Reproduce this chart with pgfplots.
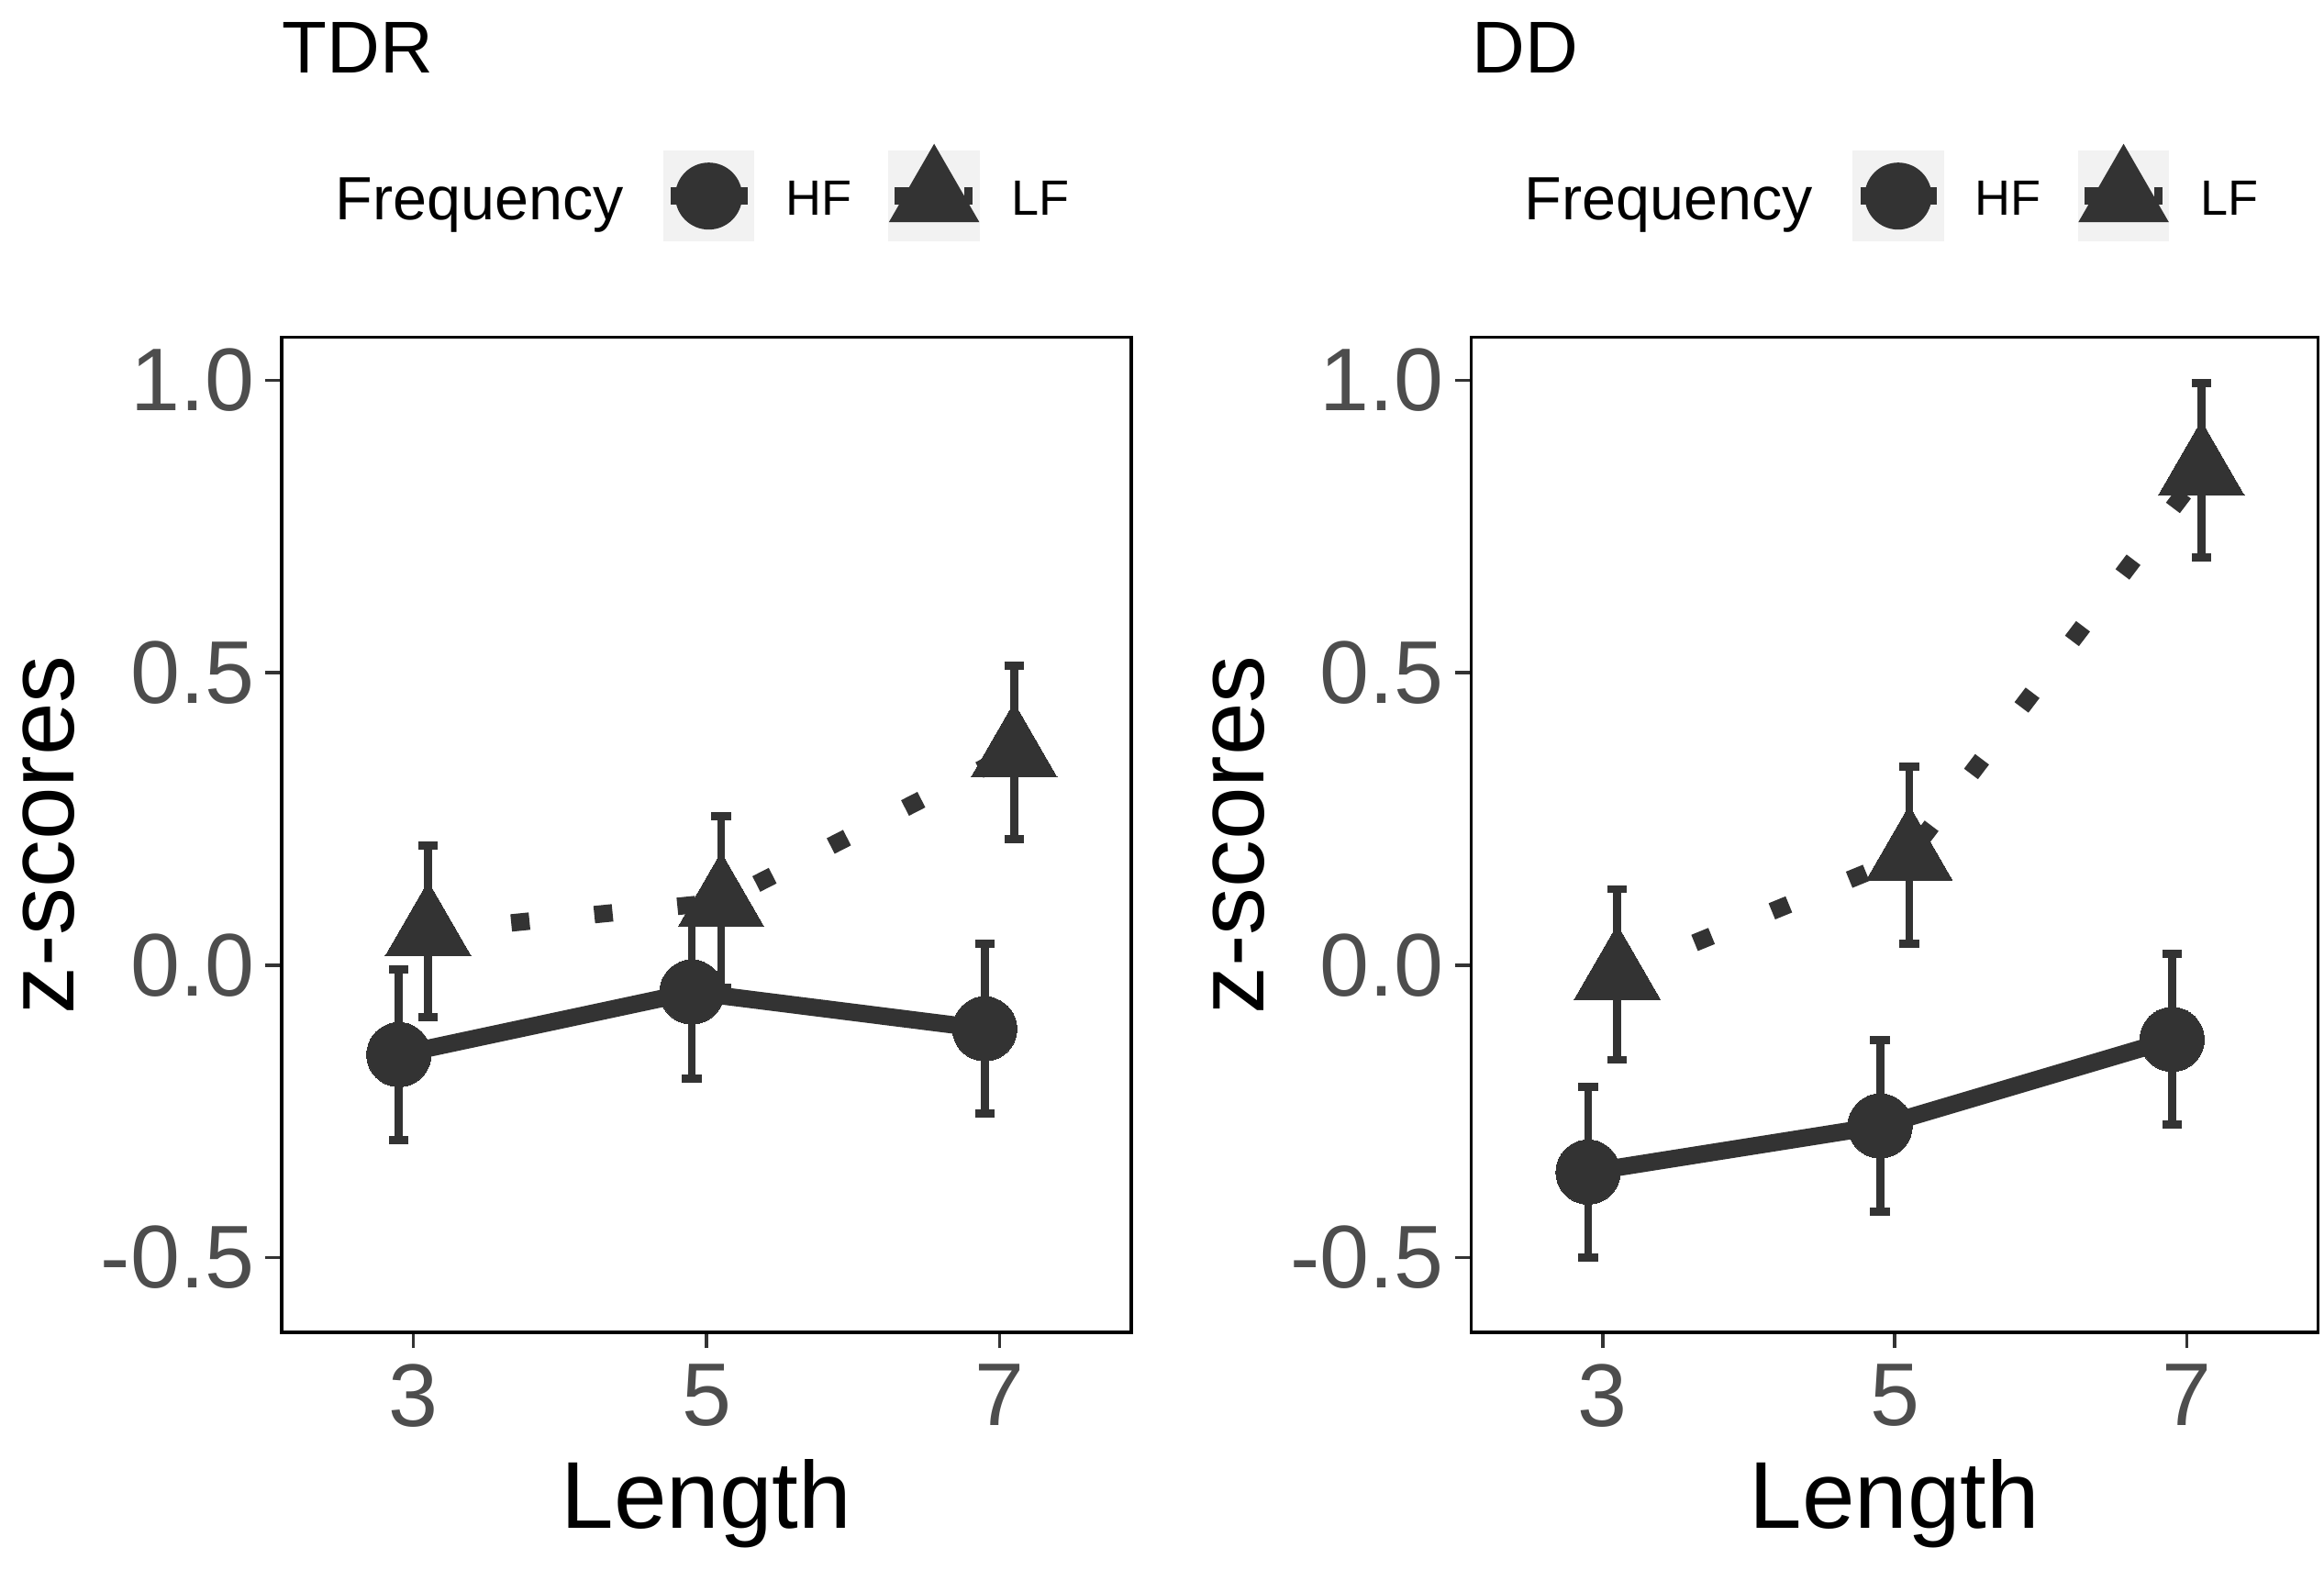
\documentclass[border=0pt]{standalone}
\usepackage{fontspec}
\setmainfont{Liberation Sans}
\usepackage{pgfplots}
\usepackage{pgfplotstable}
\pgfplotsset{compat=1.18}
\definecolor{g20}{HTML}{333333}
\definecolor{g30}{HTML}{4D4D4D}
\definecolor{g95}{HTML}{F2F2F2}

\pgfplotstableread{
x y e
2.9 -0.153 0.146
4.9 -0.046 0.148
6.9 -0.109 0.145
}\tdrHF
\pgfplotstableread{
x y e
3.1 0.058 0.147
5.1 0.108 0.147
7.1 0.364 0.148
}\tdrLF
\pgfplotstableread{
x y e
2.9 -0.354 0.146
4.9 -0.275 0.147
6.9 -0.127 0.146
}\ddHF
\pgfplotstableread{
x y e
3.1 -0.016 0.146
5.1 0.188 0.151
7.1 0.846 0.149
}\ddLF

\pgfplotsset{
  zpanel/.style={
    scale only axis, height=216.88pt,
    xmin=2.1, xmax=7.9, ymin=-0.628, ymax=1.0738,
    xtick={3,5,7}, xticklabels={3,5,7},
    ytick={-0.5,0,0.5,1}, yticklabels={-0.5,0.0,0.5,1.0},
    minor tick num=0,
    xtick pos=left, ytick pos=left,
    tick align=outside, major tick length=3.5pt,
    tick style={g20, line width=0.7pt},
    axis line style={black, line width=0.7pt},
    ticklabel style={font=\fontsize{19.4}{20}\selectfont, text=g30, inner sep=0pt},
    yticklabel style={xshift=-2.3pt},
    xticklabel style={yshift=-3.2pt},
    xlabel={Length}, ylabel={z-scores},
    label style={font=\fontsize{20.7}{22}\selectfont, inner sep=0pt, text=black},
    xlabel style={at={(axis description cs:0.5,-0.1973)}, anchor=base},
    ylabel style={at={(axis description cs:-0.2451,0.5)}, anchor=base},
    title style={at={(axis description cs:0,1.2652)}, anchor=base west, yshift=-6pt, inner sep=0pt, font=\fontsize{16}{18}\selectfont},
    legend columns=3,
    legend cell align=left,
    legend style={at={(axis description cs:0.0631,1.1419)}, anchor=west,
      draw=none, fill=none, inner sep=0pt, outer sep=0pt,
      column sep=0pt, row sep=0pt,
      nodes={inner sep=0pt, anchor=base west, font=\fontsize{10.8}{12}\selectfont, text=black}},
  },
  hfstyle/.style={
    legend image code/.code={
      \path[draw=none, fill=none] (-8.64pt,-8.74pt) rectangle (26.7pt,17.26pt);
      \path[draw=none, fill=g95] (0pt,-5.66pt) rectangle (19.86pt,14.2pt);
      \draw[g20, line width=3.8pt, solid] (1.72pt,4.26pt) -- (18.36pt,4.26pt);
      \path[draw=none, fill=g20] (9.93pt,4.26pt) circle (7.3pt);
    },
    g20, line width=3.8pt, mark=*, mark size=7pt,
    mark options={line width=0pt, fill=g20},
    error bars/.cd, y dir=both, y explicit,
    error bar style={line width=1.76pt, solid},
    error mark options={rotate=90, line width=1.76pt, mark size=2.14pt, solid},
  },
  lfstyle/.style={
    legend image code/.code={
      \path[draw=none, fill=none] (-8.04pt,-8.74pt) rectangle (26.76pt,17.26pt);
      \path[draw=none, fill=g95] (0pt,-5.66pt) rectangle (19.86pt,14.2pt);
      \draw[g20, line width=3.8pt, dash pattern=on 3.2pt off 12pt] (1.4pt,4.26pt) -- (18.4pt,4.26pt);
      \path[draw=none, fill=g20] (9.93pt,15.66pt) -- (19.8pt,-1.44pt) -- (0.06pt,-1.44pt) -- cycle;
    },
    g20, line width=3.8pt, dash pattern=on 4pt off 14.2pt,
    mark=triangle*, mark size=10.8pt,
    mark options={line width=0pt, fill=g20, solid},
    error bars/.cd, y dir=both, y explicit,
    error bar style={line width=1.76pt, solid},
    error mark options={rotate=90, line width=1.76pt, mark size=2.14pt, solid},
  },
}

\begin{document}
\begin{tikzpicture}
\path[use as bounding box] (0,0) rectangle (506.6pt,342.2pt);

\begin{axis}[zpanel, width=185.2pt, at={(61.4pt,51.8pt)}, anchor=south west, title={TDR}]
\addlegendimage{empty legend}
\addlegendentry[font=\fontsize{13.3}{14}\selectfont, yshift=-0.86pt]{Frequency}
\addplot[hfstyle] table[x=x, y=y, y error=e] {\tdrHF};
\addlegendentry{HF}
\addplot[lfstyle] table[x=x, y=y, y error=e] {\tdrLF};
\addlegendentry{LF}
\end{axis}

\begin{axis}[zpanel, width=184.6pt, at={(320.72pt,51.8pt)}, anchor=south west, title={DD}]
\addlegendimage{empty legend}
\addlegendentry[font=\fontsize{13.3}{14}\selectfont, yshift=-0.86pt]{Frequency}
\addplot[hfstyle] table[x=x, y=y, y error=e] {\ddHF};
\addlegendentry{HF}
\addplot[lfstyle] table[x=x, y=y, y error=e] {\ddLF};
\addlegendentry{LF}
\end{axis}
\end{tikzpicture}
\end{document}
